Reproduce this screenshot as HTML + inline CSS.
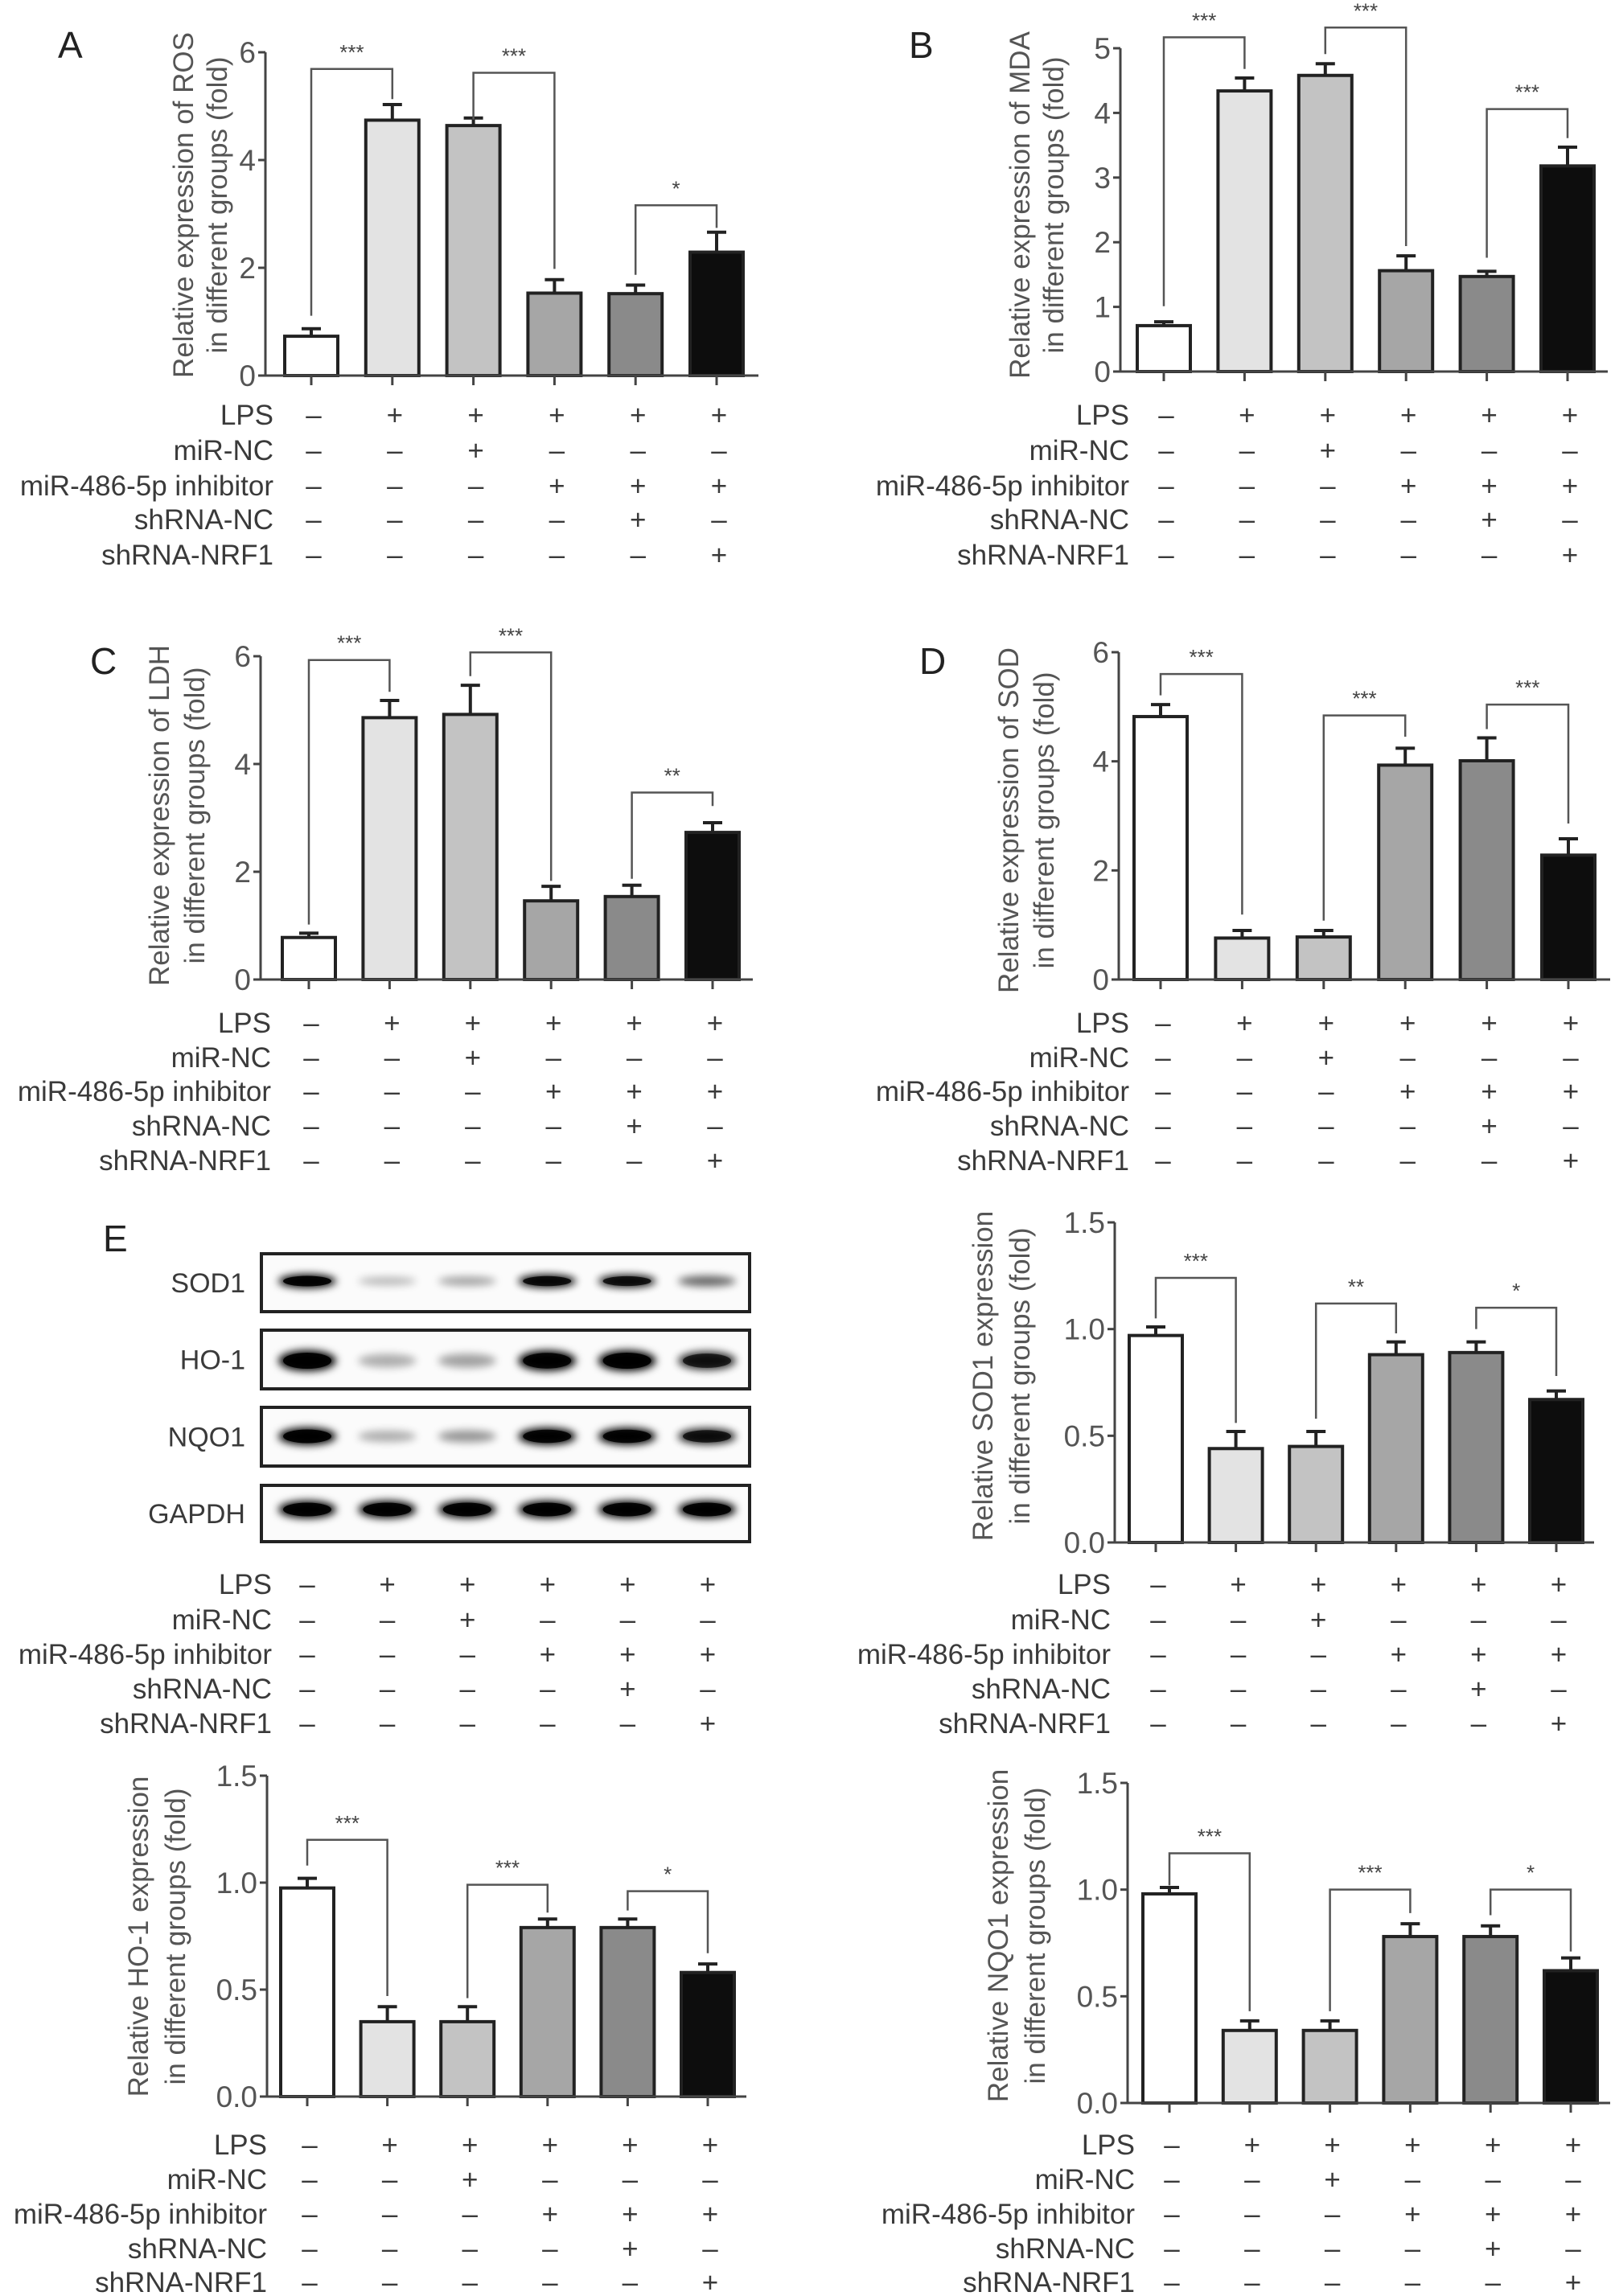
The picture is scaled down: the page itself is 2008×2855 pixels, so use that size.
<!DOCTYPE html>
<html><head><meta charset="utf-8">
<style>
html,body{margin:0;padding:0;background:#fff;}
svg{display:block;font-family:"Liberation Sans",Arial,sans-serif;}
</style></head>
<body>
<svg id="fig" width="2008" height="2855" viewBox="0 0 2008 2855" xmlns="http://www.w3.org/2000/svg">
<defs><filter id="blur" x="-30%" y="-80%" width="160%" height="260%"><feGaussianBlur stdDeviation="5"/></filter></defs>
</svg>
<script>
// ---------- data ----------
const treatmentNames = ["LPS","miR-NC","miR-486-5p inhibitor","shRNA-NC","shRNA-NRF1"];
const treatmentSigns = [
  ["–","+","+","+","+","+"],
  ["–","–","+","–","–","–"],
  ["–","–","–","+","+","+"],
  ["–","–","–","–","+","–"],
  ["–","–","–","–","–","+"]
];
const barFills = ["#ffffff","#e3e3e3","#c3c3c3","#a6a6a6","#8a8a8a","#0d0d0d"];

const rosValues = [0.73,4.74,4.64,1.53,1.52,2.29];
const rosErrors = [0.14,0.29,0.14,0.25,0.16,0.37];
const rosTicks = ["0","2","4","6"];
const rosBrackets = [[0,1,5.69,1.11,5.13,"***"],[2,3,5.62,4.75,1.98,"***"],[4,5,3.16,1.87,2.74,"*"]];

const mdaValues = [0.71,4.34,4.58,1.56,1.47,3.18];
const mdaErrors = [0.06,0.20,0.18,0.23,0.08,0.29];
const mdaTicks = ["0","1","2","3","4","5"];
const mdaBrackets = [[0,1,5.17,1.01,4.68,"***"],[2,3,5.32,4.91,1.94,"***"],[4,5,4.06,1.76,3.61,"***"]];

const ldhValues = [0.78,4.86,4.92,1.46,1.54,2.73];
const ldhErrors = [0.08,0.32,0.54,0.27,0.21,0.18];
const ldhTicks = ["0","2","4","6"];
const ldhBrackets = [[0,1,5.93,1.02,5.34,"***"],[2,3,6.07,5.63,1.83,"***"],[4,5,3.47,1.87,3.22,"**"]];

const sodValues = [4.82,0.76,0.78,3.93,4.01,2.28];
const sodErrors = [0.22,0.14,0.12,0.31,0.42,0.30];
const sodTicks = ["0","2","4","6"];
const sodBrackets = [[0,1,5.60,5.21,1.19,"***"],[2,3,4.84,1.08,4.45,"***"],[4,5,5.04,4.59,2.86,"***"]];

const sod1Values = [0.97,0.44,0.45,0.88,0.89,0.67];
const sod1Errors = [0.04,0.08,0.07,0.06,0.05,0.04];
const sod1Brackets = [[0,1,1.24,1.05,0.56,"***"],[2,3,1.12,0.58,0.98,"**"],[4,5,1.10,1.00,0.78,"*"]];

const ho1Values = [0.975,0.35,0.35,0.79,0.79,0.58];
const ho1Errors = [0.045,0.07,0.07,0.04,0.04,0.04];
const ho1Brackets = [[0,1,1.20,1.08,0.47,"***"],[2,3,0.99,0.46,0.86,"***"],[4,5,0.96,0.87,0.67,"*"]];

const nqo1Values = [0.98,0.34,0.34,0.78,0.78,0.62];
const nqo1Errors = [0.03,0.045,0.045,0.06,0.05,0.06];
const nqo1Brackets = [[0,1,1.17,1.02,0.43,"***"],[2,3,1.00,0.43,0.89,"***"],[4,5,1.00,0.88,0.71,"*"]];

const fracTicks = ["0.0","0.5","1.0","1.5"];

const blotProteins = ["SOD1","HO-1","NQO1","GAPDH"];
const blotSOD1 = [1.0,0.15,0.25,0.9,0.85,0.5];
const blotHO1 = [1.0,0.2,0.25,0.95,1.0,0.75];
const blotNQO1 = [1.0,0.2,0.3,0.95,0.95,0.8];
const blotGAPDH = [1.0,1.0,1.0,1.0,1.0,1.0];

// ---------- drawing ----------
const svg = document.getElementById('fig');
const NS = 'http://www.w3.org/2000/svg';
function mk(tag, attrs, parent){
  const e = document.createElementNS(NS, tag);
  for (const k in attrs) e.setAttribute(k, attrs[k]);
  (parent||svg).appendChild(e);
  return e;
}
function txt(str, x, y, size, anchor, parent, color){
  const t = mk('text', {x:x, y:y, 'font-size':size, 'text-anchor':anchor||'start', fill:color||'#3a3a3a'}, parent);
  t.textContent = str;
  return t;
}

function drawSigns(g, labelRight, firstX, step, rowYs){
  for (let r=0;r<treatmentNames.length;r++){
    const l = txt(treatmentNames[r], labelRight, rowYs[r]+12, 35, 'end', g);
    
    
    for (let c=0;c<6;c++){
      const s = txt(treatmentSigns[r][c], firstX+step*c, rowYs[r]+12, 35, 'middle', g);
      
      
    }
  }
}

function drawChart(name, L, values, errors, ticks, brackets){
  const g = mk('g', {});
  
  
  const vmax = parseFloat(ticks[ticks.length-1]);
  const yS = v => L.y0 - (v/vmax)*(L.y0-L.yTop);
  const xS = i => L.c0 + L.step*i;
  const ya = mk('line', {x1:L.ax, y1:L.yTop, x2:L.ax, y2:L.y0, stroke:'#444', 'stroke-width':3}, g);
  
  
  for (const t of ticks){
    const y = yS(parseFloat(t));
    mk('line', {x1:L.ax-9, y1:y, x2:L.ax, y2:y, stroke:'#444', 'stroke-width':3}, g);
    const tl = txt(t, L.ax-12, y+13, 37, 'end', g, '#555');
    
    
  }
  for (let i=0;i<values.length;i++){
    const x = xS(i), top = yS(values[i]);
    const et = yS(values[i]+errors[i]);
    mk('line', {x1:x, y1:top, x2:x, y2:et, stroke:'#222', 'stroke-width':4}, g);
    mk('line', {x1:x-12, y1:et, x2:x+12, y2:et, stroke:'#222', 'stroke-width':4}, g);
    const b = mk('rect', {x:x-33, y:top, width:66, height:L.y0-top, fill:barFills[i], stroke:'#222', 'stroke-width':4}, g);
    
    
    mk('line', {x1:x, y1:L.y0, x2:x, y2:L.y0+12, stroke:'#444', 'stroke-width':3}, g);
  }
  const xa = mk('line', {x1:L.ax, y1:L.y0, x2:L.xEnd, y2:L.y0, stroke:'#444', 'stroke-width':3}, g);
  
  
  for (const br of brackets){
    const xa1 = xS(br[0]), xb1 = xS(br[1]), yt = yS(br[2]);
    const p = mk('path', {d:`M${xa1},${yS(br[3])} V${yt} H${xb1} V${yS(br[4])}`, fill:'none', stroke:'#555', 'stroke-width':2.5}, g);
    
    
    const s = txt(br[5], (xa1+xb1)/2, yt-12, 26, 'middle', g, '#444');
    
    
  }
  const tt = mk('text', {transform:`translate(${L.t1},${L.tc}) rotate(-90)`, 'font-size':35, 'text-anchor':'middle', fill:'#555'}, g);
  
  
  const s1 = mk('tspan', {x:0, y:0}, tt); s1.textContent = L.title[0];
  const s2 = mk('tspan', {x:0, y:L.t2-L.t1}, tt); s2.textContent = L.title[1];
  if (L.letter){
    const lt = txt(L.letter[0], L.letter[1], L.letter[2], 46, 'start', g, '#222');
    
    
  }
  drawSigns(g, L.lr, L.c0+3, L.step, L.rows);
}

const rowsAB = [516,560,604,646,690];
const rowsCD = [1272,1315,1357,1400,1443];
const rowsE = [1970,2014,2057,2100,2143];
const rowsF = [2667,2710,2753,2796,2838];

drawChart('panel-a-ros-chart', {ax:330,xEnd:943,y0:467,yTop:65,c0:387,step:100.8,lr:340,rows:rowsAB,t1:240,t2:282,tc:255,title:['Relative expression of ROS','in different groups (fold)'],letter:['A',72,72]}, rosValues, rosErrors, rosTicks, rosBrackets);
drawChart('panel-b-mda-chart', {ax:1393,xEnd:1999,y0:462,yTop:60,c0:1447,step:100.4,lr:1404,rows:rowsAB,t1:1280,t2:1322,tc:255,title:['Relative expression of MDA','in different groups (fold)'],letter:['B',1130,72]}, mdaValues, mdaErrors, mdaTicks, mdaBrackets);
drawChart('panel-c-ldh-chart', {ax:324,xEnd:936,y0:1218,yTop:816,c0:384,step:100.4,lr:337,rows:rowsCD,t1:210,t2:254,tc:1014,title:['Relative expression of LDH','in different groups (fold)'],letter:['C',112,838]}, ldhValues, ldhErrors, ldhTicks, ldhBrackets);
drawChart('panel-d-sod-chart', {ax:1391,xEnd:2002,y0:1218,yTop:811,c0:1443,step:101.4,lr:1404,rows:rowsCD,t1:1266,t2:1310,tc:1020,title:['Relative expression of SOD','in different groups (fold)'],letter:['D',1143,838]}, sodValues, sodErrors, sodTicks, sodBrackets);
drawChart('panel-e-sod1-chart', {ax:1386,xEnd:1982,y0:1918,yTop:1520,c0:1437,step:99.6,lr:1381,rows:rowsE,t1:1234,t2:1280,tc:1711,title:['Relative SOD1 expression','in different groups (fold)']}, sod1Values, sod1Errors, fracTicks, sod1Brackets);
drawChart('panel-e-ho1-chart', {ax:332,xEnd:928,y0:2607,yTop:2208,c0:382,step:99.6,lr:332,rows:rowsF,t1:184,t2:230,tc:2408,title:['Relative HO-1 expression','in different groups (fold)']}, ho1Values, ho1Errors, fracTicks, ho1Brackets);
drawChart('panel-e-nqo1-chart', {ax:1402,xEnd:2002,y0:2615,yTop:2217,c0:1454,step:99.8,lr:1411,rows:rowsF,t1:1253,t2:1299,tc:2407,title:['Relative NQO1 expression','in different groups (fold)']}, nqo1Values, nqo1Errors, fracTicks, nqo1Brackets);

// ---------- western blot ----------
const wb = mk('g', {});


const eL = txt('E', 128, 1556, 46, 'start', wb, '#222');


const blotBoxes = [[1559,1631,1593,17],[1654,1727,1692,26],[1750,1823,1786,22],[1847,1917,1877,22]];
const blotData = [blotSOD1, blotHO1, blotNQO1, blotGAPDH];
const laneX = i => 382 + 99.4*i;
for (let p=0;p<4;p++){
  const bx = blotBoxes[p];
  const r = mk('rect', {x:325, y:bx[0], width:607, height:bx[1]-bx[0], fill:'#fbfbfb', stroke:'#222', 'stroke-width':4}, wb);
  
  
  const lb = txt(blotProteins[p], 305, (bx[0]+bx[1])/2+12, 34, 'end', wb);
  
  
  for (let i=0;i<6;i++){
    const d = blotData[p][i];
    const h = bx[3]*(0.55+0.45*Math.min(d,1));
    const e = mk('ellipse', {cx:laneX(i), cy:bx[2], rx:36, ry:h/2, fill:'#000', opacity:Math.min(1,0.12+0.95*d), filter:'url(#blur)'}, wb);
    
    
    if (d>0.7){
      const e2 = mk('ellipse', {cx:laneX(i), cy:bx[2], rx:30, ry:h/2.6, fill:'#000', opacity:d*0.9}, wb);
      
      
    }
  }
}
drawSigns(wb, 338, 382, 99.6, rowsE);
</script>
</body></html>
